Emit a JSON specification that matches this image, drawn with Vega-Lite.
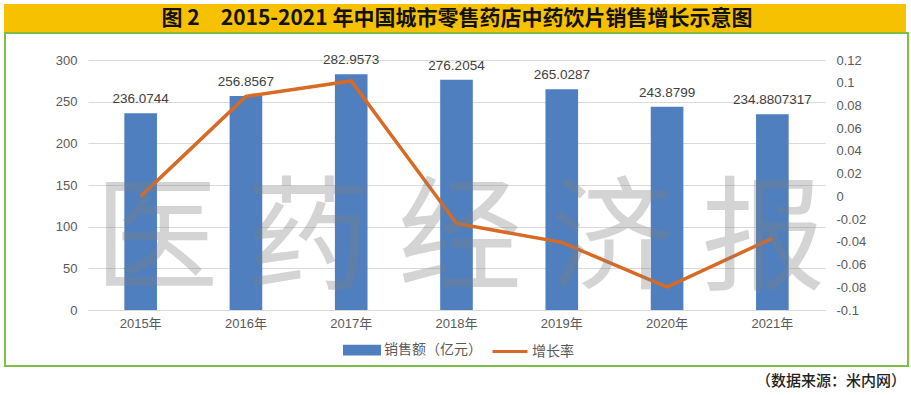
{
  "$schema": "https://vega.github.io/schema/vega-lite/v6.json",
  "width": 737,
  "height": 250,
  "autosize": {"type": "none"},
  "padding": {"left": 88, "top": 60, "right": 86, "bottom": 85},
  "background": "white",
  "config": {
    "view": {"stroke": null},
    "font": "Liberation Sans, Noto Sans CJK SC",
    "axis": {"labelFont": "Liberation Sans, Noto Sans CJK SC", "labelFontSize": 13, "labelColor": "#595959", "title": null, "ticks": false}
  },
  "data": {
    "values": [
      {"year": "2015年", "sales": 236.0744, "growth": 0},
      {"year": "2016年", "sales": 256.8567, "growth": 0.088},
      {"year": "2017年", "sales": 282.9573, "growth": 0.1016},
      {"year": "2018年", "sales": 276.2054, "growth": -0.0239},
      {"year": "2019年", "sales": 265.0287, "growth": -0.0405},
      {"year": "2020年", "sales": 243.8799, "growth": -0.0798},
      {"year": "2021年", "sales": 234.8807317, "growth": -0.0369}
    ]
  },
  "layer": [
    {
      "data": {"values": [{"k": "bar"}]},
      "mark": {"type": "rect", "fill": "#F6C200"},
      "encoding": {"x": {"value": -84}, "x2": {"value": 818}, "y": {"value": -56}, "y2": {"value": -27}}
    },
    {
      "data": {"values": [{"t": "图 2　2015-2021 年中国城市零售药店中药饮片销售增长示意图"}]},
      "mark": {"type": "text", "font": "Noto Sans CJK SC", "fontSize": 21, "fontWeight": "bold", "color": "#111111", "align": "center", "baseline": "middle"},
      "encoding": {"text": {"field": "t"}, "x": {"value": 369}, "y": {"value": -41}}
    },
    {
      "data": {"values": [{"k": "box"}]},
      "mark": {"type": "rect", "fill": null, "fillOpacity": 0, "stroke": "#7DBF45", "strokeWidth": 2},
      "encoding": {"x": {"value": -83}, "x2": {"value": 820}, "y": {"value": -27}, "y2": {"value": 306}}
    },
    {
      "data": {"values": [{"t": "（数据来源：米内网）"}]},
      "mark": {"type": "text", "font": "Noto Sans CJK SC", "fontSize": 15, "fontWeight": 500, "color": "#222222", "align": "right", "baseline": "middle"},
      "encoding": {"text": {"field": "t"}, "x": {"value": 818}, "y": {"value": 321}}
    },
    {
      "encoding": {
        "x": {
          "field": "year", "type": "nominal", "sort": null,
          "scale": {"paddingInner": 0.69, "paddingOuter": 0.345},
          "axis": {"labelAngle": 0, "domainColor": "#D9D9D9", "labelPadding": 7, "grid": false}
        },
        "y": {
          "field": "sales", "type": "quantitative",
          "scale": {"domain": [0, 300], "nice": false},
          "axis": {"values": [0, 50, 100, 150, 200, 250, 300], "grid": true, "gridColor": "#D9D9D9", "domain": false, "labelPadding": 11}
        }
      },
      "layer": [
        {
          "mark": {"type": "bar"},
          "encoding": {
            "color": {
              "datum": "销售额（亿元）",
              "scale": {"domain": ["销售额（亿元）", "增长率"], "range": ["#4F7FBE", "#D86A24"]},
              "legend": {
                "orient": "none", "legendX": 255, "legendY": 271, "direction": "horizontal", "title": null,
                "labelFont": "Noto Sans CJK SC", "labelFontSize": 14, "labelColor": "#595959",
                "symbolSize": 1225, "labelOffset": 3, "columnPadding": 4,
                "symbolType": "M-1,-0.22H1V0.22H-1Z",
                "encode": {
                  "symbols": {
                    "update": {
                      "shape": {"signal": "datum.label === '增长率' ? 'M-1,0H1' : 'M-1,-0.22H1V0.22H-1Z'"},
                      "fill": {"signal": "datum.label === '增长率' ? 'transparent' : '#4F7FBE'"},
                      "stroke": {"signal": "datum.label === '增长率' ? '#D86A24' : 'transparent'"},
                      "strokeWidth": {"value": 3},
                      "opacity": {"value": 1}
                    }
                  }
                }
              }
            }
          }
        },
        {
          "mark": {"type": "text", "baseline": "bottom", "dy": -7, "fontSize": 13.5, "color": "#404040"},
          "encoding": {"text": {"field": "sales", "type": "nominal"}}
        }
      ]
    },
    {
      "mark": {"type": "line", "strokeWidth": 3.5},
      "encoding": {
        "x": {"field": "year", "type": "nominal", "sort": null},
        "y": {
          "field": "growth", "type": "quantitative",
          "scale": {"domain": [-0.1, 0.12], "nice": false, "zero": false},
          "axis": {
            "orient": "right", "grid": false, "domain": false, "labelPadding": 11,
            "values": [-0.1, -0.08, -0.06, -0.04, -0.02, 0, 0.02, 0.04, 0.06, 0.08, 0.1, 0.12],
            "labelExpr": "replace(format(datum.value, '.2~f'), '\u2212', '-')"
          }
        },
        "color": {"datum": "增长率"}
      }
    },
    {
      "data": {"values": [{"w": "医 药 经 济 报"}]},
      "mark": {"type": "text", "font": "Noto Sans CJK SC", "fontSize": 124, "color": "#7F7F7F", "opacity": 0.33, "align": "center", "baseline": "middle"},
      "encoding": {"text": {"field": "w"}, "x": {"value": 372}, "y": {"value": 183}}
    }
  ],
  "resolve": {"scale": {"y": "independent"}}
}
